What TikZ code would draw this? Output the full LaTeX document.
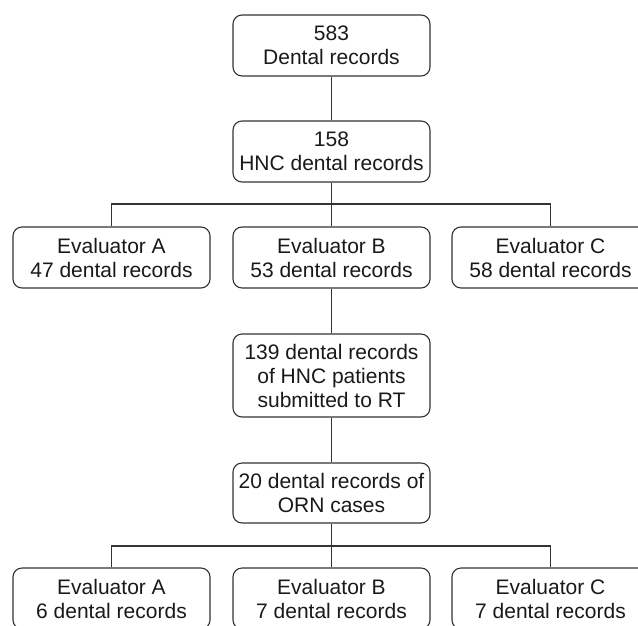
\documentclass[tikz,border=0pt]{standalone}
\usepackage{fontspec}
\setmainfont{Liberation Sans}
\begin{document}
\begin{tikzpicture}[x=1pt,y=-1pt,line width=1.1pt,draw=black!80,
  rec/.style={draw, rounded corners=9pt, align=center, text=black!90, minimum width=197pt, minimum height=61pt, inner sep=0pt, font=\fontsize{21}{24}\selectfont}]
\clip (0,0) rectangle (638,625);

\node[rec] (all) at (331.5,45.5) {583\\Dental records};
\node[rec] (hnc) at (331.5,151.5) {158\\HNC dental records};

\node[rec] (evA) at (111.5,257.5) {Evaluator A\\47 dental records};
\node[rec] (evB) at (331.5,257.5) {Evaluator B\\53 dental records};
\node[rec] (evC) at (550.5,257.5) {Evaluator C\\58 dental records};

\node[rec, minimum height=83pt] (rt) at (331.5,375.5) {139 dental records\\of HNC patients\\submitted to RT};
\node[rec, minimum height=60pt] (orn) at (331.5,493) {20 dental records of\\ORN cases};

\node[rec] (ornA) at (111.5,598.5) {Evaluator A\\6 dental records};
\node[rec] (ornB) at (331.5,598.5) {Evaluator B\\7 dental records};
\node[rec] (ornC) at (550.5,598.5) {Evaluator C\\7 dental records};

\coordinate (bus1) at (331.5,204);
\coordinate (bus2) at (331.5,546);

\draw (all) -- (hnc);
\draw (hnc) -- (evB);
\draw (evA.north) |- (bus1) -| (evC.north);
\draw (evB) -- (rt);
\draw (rt) -- (orn);
\draw (orn) -- (ornB);
\draw (ornA.north) |- (bus2) -| (ornC.north);

\end{tikzpicture}
\end{document}
